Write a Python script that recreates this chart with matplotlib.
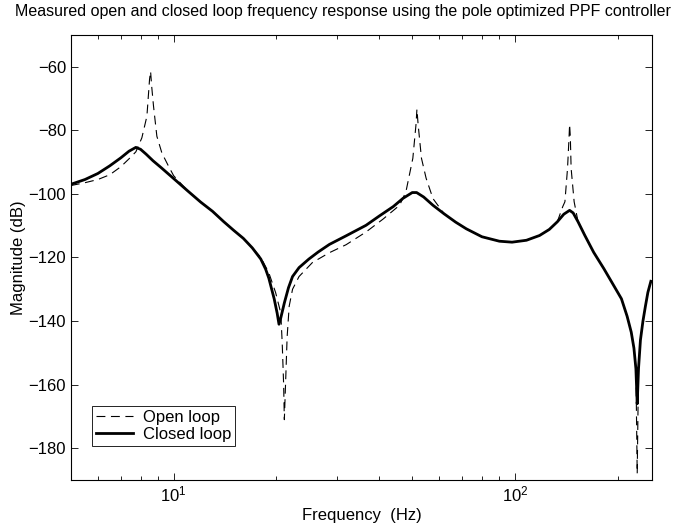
import numpy as np
import matplotlib.pyplot as plt
from matplotlib.ticker import LogLocator, FixedLocator

plt.rcParams['font.family'] = ['Liberation Sans', 'DejaVu Sans']

# Closed loop response (frequency in Hz, magnitude in dB)
freq_closed = [5.0, 5.5, 6.0, 6.5, 7.0, 7.4, 7.75, 8.0, 8.3, 8.7, 9.2, 10.0,
               11.0, 12.0, 13.0, 14.0, 15.0, 16.0, 17.0, 18.0, 18.6, 19.0,
               19.7, 20.1, 20.35, 20.6, 21.1, 21.7, 22.3, 23.3, 24.9, 26.5,
               28.6, 32.0, 36.6, 40.0, 44.0, 47.0, 50.0, 51.5, 54.0, 57.5,
               62.0, 67.0, 72.0, 80.0, 90.0, 98.0, 108.0, 118.0, 126.0, 133.0,
               139.0, 144.5, 148.0, 153.0, 160.0, 170.0, 182.0, 195.0, 205.0,
               213.0, 219.0, 223.0, 226.0, 228.0, 230.0, 233.0, 237.0, 241.0,
               245.0, 250.0]
mag_closed = [-97.0, -95.5, -93.6, -91.2, -88.7, -86.6, -85.4, -86.0, -87.5,
              -89.6, -91.8, -95.2, -99.1, -102.6, -105.5, -108.7, -111.5,
              -114.0, -117.0, -120.5, -123.7, -126.5, -133.0, -137.5, -141.0,
              -139.0, -134.3, -129.5, -126.0, -123.2, -120.5, -118.3, -115.9,
              -113.2, -109.9, -107.0, -104.0, -101.4, -99.6, -99.6, -101.0,
              -103.6, -106.3, -108.9, -111.0, -113.5, -114.9, -115.2, -114.6,
              -113.1, -111.2, -108.8, -106.4, -105.2, -106.0, -108.8, -113.0,
              -118.4, -123.5, -129.0, -133.0, -138.5, -143.5, -148.5, -155.0,
              -166.0, -155.0, -146.0, -140.0, -135.3, -131.0, -127.5]

# Open loop response
freq_open = [5.0, 5.5, 6.0, 6.5, 7.0, 7.4, 7.75, 8.07, 8.35, 8.5, 8.56, 8.62,
             8.73, 8.93, 9.24, 9.67, 10.0, 11.0, 12.0, 13.0, 14.0, 15.0, 16.0,
             17.0, 18.0, 19.0, 19.9, 20.6, 20.8, 21.0, 21.1, 21.3, 21.5, 21.8,
             22.3, 23.3, 25.5, 28.6, 32.0, 36.6, 41.0, 45.9, 47.9, 50.2, 51.3,
             51.6, 52.0, 53.2, 54.9, 57.5, 62.0, 67.0, 72.0, 80.0, 90.0, 98.0,
             108.0, 118.0, 126.0, 133.0, 138.0, 140.0, 142.5, 144.0, 144.5,
             145.2, 146.0, 149.0, 153.0, 160.0, 170.0, 182.0, 195.0, 205.0,
             213.0, 219.0, 223.0, 226.0, 228.0, 230.0, 233.0, 237.0, 241.0,
             245.0, 250.0]
mag_open = [-97.4, -96.5, -95.5, -94.0, -91.5, -89.0, -86.8, -82.4, -75.6,
            -64.0, -61.5, -66.0, -72.4, -81.9, -87.2, -91.4, -94.3, -99.1,
            -102.6, -105.5, -108.7, -111.5, -114.0, -117.0, -120.0, -124.8,
            -131.1, -137.5, -147.0, -160.0, -171.0, -158.0, -145.0, -135.3,
            -130.0, -126.0, -121.6, -118.5, -116.0, -112.0, -108.0, -103.6,
            -99.4, -88.8, -78.0, -73.4, -78.0, -88.8, -95.1, -101.5, -106.3,
            -108.9, -111.0, -113.5, -114.9, -115.2, -114.6, -113.1, -111.2,
            -108.8, -104.0, -102.5, -92.0, -82.0, -78.2, -82.0, -92.0, -102.5,
            -108.8, -113.0, -118.4, -123.5, -129.0, -133.0, -138.5, -143.5,
            -148.5, -155.0, -188.0, -155.0, -146.0, -140.0, -135.3, -131.0,
            -127.5]

y_ticks = [-180, -160, -140, -120, -100, -80, -60]

fig = plt.figure(figsize=(6.75, 5.27), dpi=100)
ax = fig.add_axes([0.105, 0.089, 0.861, 0.845])

ax.plot(freq_open, mag_open, color='black', linewidth=0.8,
        dashes=(8, 5), label='Open loop')
ax.plot(freq_closed, mag_closed, color='black', linewidth=2.0,
        label='Closed loop')

ax.set_xscale('log')
ax.set_xlim(5, 252)
ax.set_ylim(-190, -50)
ax.yaxis.set_major_locator(FixedLocator(y_ticks))
ax.xaxis.set_major_locator(LogLocator(base=10))
ax.xaxis.set_minor_locator(LogLocator(base=10, subs=np.arange(2, 10)))
ax.xaxis.set_minor_formatter(plt.NullFormatter())

ax.tick_params(which='both', direction='in', top=True, right=True,
               labelsize=12, width=0.6)
ax.tick_params(which='major', length=5)
ax.tick_params(which='minor', length=3)
for sp in ax.spines.values():
    sp.set_linewidth(0.8)

ax.set_xlabel('Frequency  (Hz)', fontsize=12, labelpad=2)
ax.set_ylabel('Magnitude (dB)', fontsize=12, labelpad=2)
fig.suptitle('Measured open and closed loop frequency response using the pole optimized PPF controller',
             fontsize=11.5, x=0.508, y=0.993)

leg = ax.legend(loc='lower left', bbox_to_anchor=(0.022, 0.058), fontsize=12,
                fancybox=False, framealpha=1, edgecolor='black',
                handlelength=2.2, borderpad=0.25, labelspacing=0.1,
                handletextpad=0.6)
leg.get_frame().set_linewidth(0.6)

fig.savefig('out.png', dpi=100)
